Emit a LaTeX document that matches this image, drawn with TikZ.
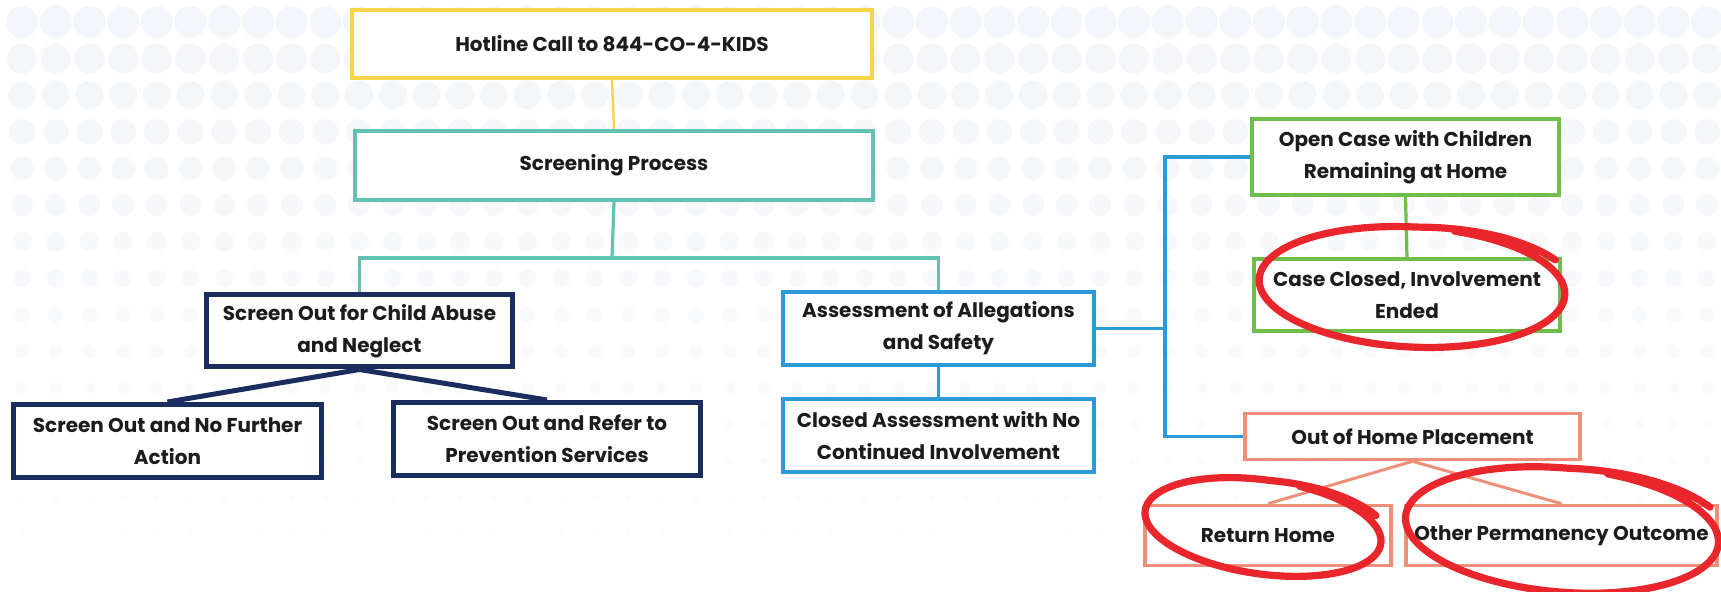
\documentclass[tikz,border=0pt]{standalone}
\usepackage{fontspec}
\setmainfont{Poppins}
\definecolor{yel}{HTML}{F5D64B}
\definecolor{tea}{HTML}{5FC2B4}
\definecolor{nav}{HTML}{1B2C5E}
\definecolor{blu}{HTML}{2B9AD6}
\definecolor{gre}{HTML}{6DBE4B}
\definecolor{sal}{HTML}{EE9077}
\definecolor{redm}{HTML}{E8262B}
\definecolor{txt}{HTML}{1C1C1C}
\definecolor{dotc}{HTML}{F3F6FA}
\tikzset{
  box/.style={draw, fill=white, line width=2pt, inner sep=0pt, align=center,
    font=\fontsize{10}{16}\selectfont\bfseries, text=txt},
  conn/.style={line width=1.6pt},
  redmark/.style={draw=redm, line width=3.6pt, line cap=round, line join=round},
}
% hand-drawn ellipse: cx, cy, rx, ry, rotation, start angle
\newcommand\handloop[6]{%
  \draw[redmark] plot[smooth, samples=90, domain=#6:#6+405, variable=\t]
   ({#1 + #3*(1+0.07*max(\t-#6-345,0)/60)*cos(\t)*cos(#5) - #4*(1+0.15*max(\t-#6-345,0)/60)*sin(\t)*sin(#5)},
    {#2 + #3*(1+0.07*max(\t-#6-345,0)/60)*cos(\t)*sin(#5) + #4*(1+0.15*max(\t-#6-345,0)/60)*sin(\t)*cos(#5)});}
\begin{document}
\begin{tikzpicture}[x=0.5pt,y=-0.5pt]
\fill[white] (0,0) rectangle (1721,592);
\useasboundingbox (0,0) rectangle (1721,592);
% background dots
\foreach \j in {0,...,15}{
  \pgfmathtruncatemacro\shade{max(100-5*\j,20)}
  \foreach \i in {0,...,51}{
    \fill[dotc!\shade!white] ({22+33.7*\i},{22+36.6*\j}) circle[radius={max(16-1.0*\j,2)*0.5pt}];
  }
}
% nodes
\node[box, draw=yel, minimum width=260pt, minimum height=34pt] (hl) at (612,44) {Hotline Call to 844-CO-4-KIDS};
\node[box, draw=tea, minimum width=259pt, minimum height=34.5pt] (scr) at (614,165.5) {Screening Process};
\node[box, draw=nav, line width=2.5pt, minimum width=153pt, minimum height=36pt] (so) at (359.5,331) {Screen Out for Child Abuse\\and Neglect};
\node[box, draw=nav, line width=2.5pt, minimum width=154pt, minimum height=36.5pt] (na) at (167.5,441) {Screen Out and No Further\\Action};
\node[box, draw=nav, line width=2.5pt, minimum width=153.5pt, minimum height=36.5pt] (rf) at (547,439) {Screen Out and Refer to\\Prevention Services};
\node[box, draw=blu, minimum width=155.5pt, minimum height=36.5pt] (as) at (938.5,328.5) {Assessment of Allegations\\and Safety};
\node[box, draw=blu, minimum width=155.5pt, minimum height=36.5pt] (ca) at (938.5,435.5) {Closed Assessment with No\\Continued Involvement};
\node[box, draw=gre, minimum width=153.5pt, minimum height=38pt] (oc) at (1405.5,157) {Open Case with Children\\Remaining at Home};
\node[box, draw=gre, minimum width=153pt, minimum height=36pt] (cc) at (1407,295) {Case Closed, Involvement\\Ended};
\node[box, draw=sal, line width=1.8pt, minimum width=167.5pt, minimum height=23pt] (oh) at (1412.5,436.5) {Out of Home Placement};
\node[box, draw=sal, line width=1.8pt, minimum width=123pt, minimum height=30pt] (rh) at (1268,535.5) {Return Home};
\node[box, draw=sal, line width=1.8pt, minimum width=155.5pt, minimum height=30pt] (op) at (1561.5,535.5) {Other Permanency Outcome};
% connectors
\draw[conn, draw=yel, line width=1.2pt] (hl.south) -- (scr.north);
\coordinate (tj) at (612,258);
\draw[conn, draw=tea] (scr.south) -- (tj);
\draw[conn, draw=tea] (so.north) |- (tj) -| (as.north);
\draw[conn, draw=nav, line width=2.5pt] (so.south) -- (na.north);
\draw[conn, draw=nav, line width=2.5pt] (so.south) -- (rf.north);
\draw[conn, draw=blu] (as.south) -- (ca.north);
\coordinate (bj) at (1165,328.5);
\draw[conn, draw=blu] (as.east) -- (bj);
\draw[conn, draw=blu] (oc.west) -| (bj) |- (oh.west);
\draw[conn, draw=gre] (oc.south) -- (cc.north);
\draw[conn, draw=sal, line width=1.5pt] (oh.south) -- (rh.north);
\draw[conn, draw=sal, line width=1.5pt] (oh.south) -- (op.north);
% red hand-drawn marks
\handloop{1412}{287}{153}{60}{3}{-75}
\handloop{1263}{527}{119}{47}{8}{-75}
\handloop{1562}{530}{157}{62}{5}{-75}
\end{tikzpicture}
\end{document}
